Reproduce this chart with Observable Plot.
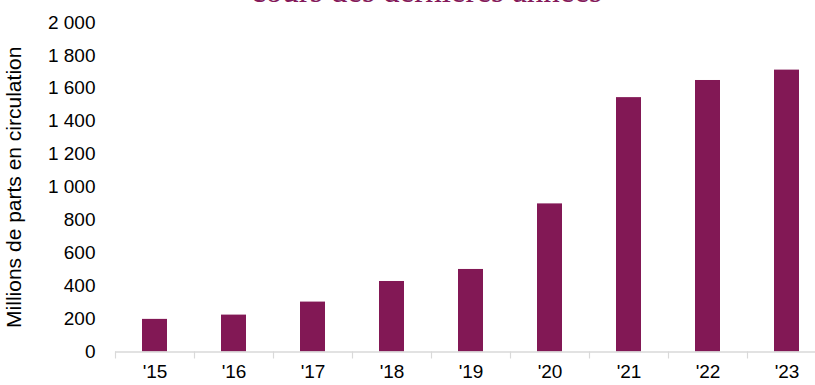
<!DOCTYPE html>
<html>
<head>
<meta charset="utf-8">
<script src="https://cdn.jsdelivr.net/npm/d3@7"></script>
<script src="https://cdn.jsdelivr.net/npm/@observablehq/plot@0.6"></script>
<style>
  html, body { margin: 0; padding: 0; background: #fff; }
  #wrap { position: relative; width: 815px; height: 385px; overflow: hidden; }
  #title { position: absolute; left: 0; width: 853px; text-align: center; top: -23px;
    font-family: "Liberation Serif", "DejaVu Serif", serif; font-size: 33px; line-height: 28px;
    color: #84195A; white-space: nowrap; }
  #chart { position: absolute; left: 0; top: 0; }
</style>
</head>
<body>
<div id="wrap">
  <div id="title">cours des dernières années</div>
  <div id="chart"></div>
</div>
<script>
const years = ["'15", "'16", "'17", "'18", "'19", "'20", "'21", "'22", "'23"];
const shares = [198, 224, 303, 428, 501, 899, 1544, 1648, 1711];
const yTicks = [0, 200, 400, 600, 800, 1000, 1200, 1400, 1600, 1800, 2000];
const yLabel = "Millions de parts en circulation";
const titleText = "cours des dernières années";

const data = years.map((y, i) => ({year: y, value: shares[i]}));
const W = 815, H = 385, mL = 115, mR = -11, mT = 22, mB = 33.5;
const step = (W - mR - mL) / years.length;
const fmt = v => d3.format(",")(v).replace(/,/g, " ");
const font = "Liberation Sans, Arial, sans-serif";

const plot = Plot.plot({
  width: W, height: H,
  marginLeft: mL, marginRight: mR, marginTop: mT, marginBottom: mB,
  style: {fontFamily: font, fontSize: "19px", color: "#000", background: "transparent", overflow: "visible"},
  x: {domain: years, paddingInner: 0.68, paddingOuter: 0.34},
  y: {domain: [0, 2000]},
  marks: [
    Plot.barY(data, {x: "year", y: "value", fill: "#821855"}),
    Plot.ruleY([0], {stroke: "#d9d9d9", strokeWidth: 1.5}),
    Plot.axisX({ticks: years, dx: -step / 2, tickSize: 7, stroke: "#d9d9d9", strokeWidth: 1.2, text: null, label: null}),
    Plot.axisX({ticks: years, tickSize: 0, tickPadding: 12, fill: "#000", fontSize: 19, label: null}),
    Plot.axisY({ticks: yTicks, tickSize: 0, tickPadding: 20, tickFormat: fmt, fill: "#000", fontSize: 19, label: null}),
    Plot.axisY({ticks: [], tickSize: 0, fill: "#000", fontSize: 21,
      label: yLabel, labelAnchor: "center", labelArrow: "none", labelOffset: 109})
  ]
});
document.getElementById("chart").appendChild(plot);
document.getElementById("title").textContent = titleText;
</script>
</body>
</html>
